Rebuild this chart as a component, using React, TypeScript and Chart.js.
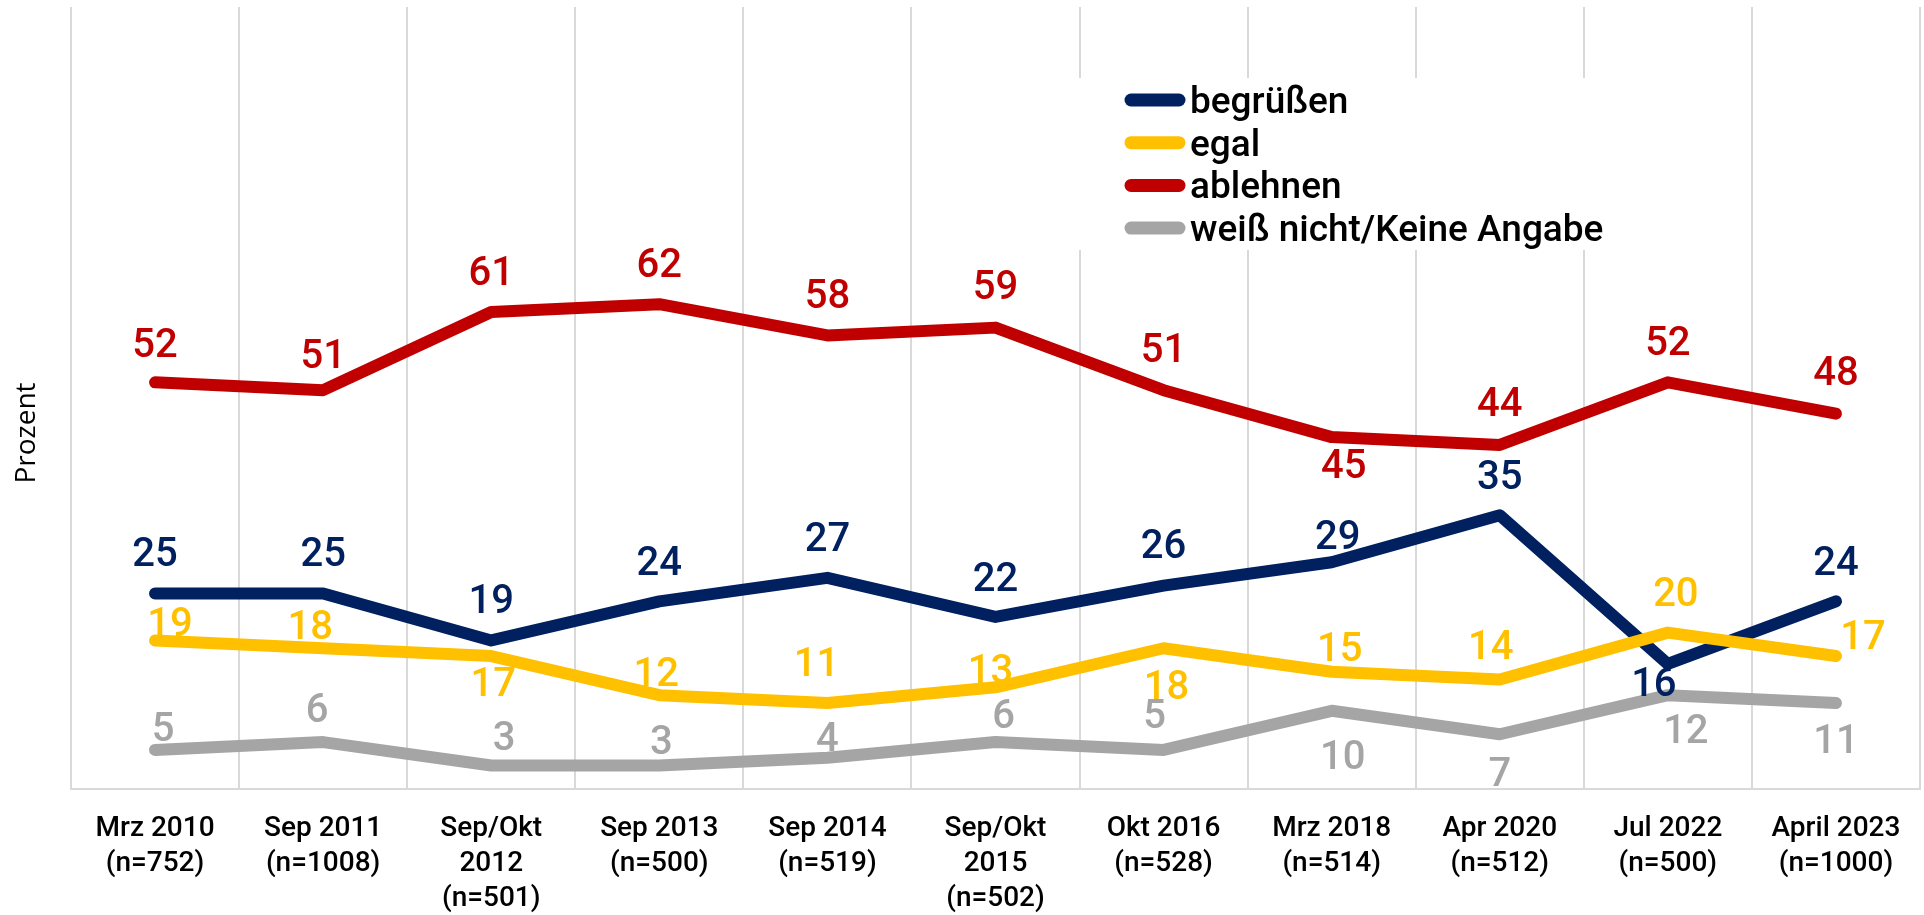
import React, { useEffect, useRef } from "react";
import { Chart, registerables } from "chart.js";

Chart.register(...registerables);

// ---------- data ----------
const categories: string[][] = [
  ["Mrz 2010", "(n=752)"],
  ["Sep 2011", "(n=1008)"],
  ["Sep/Okt", "2012", "(n=501)"],
  ["Sep 2013", "(n=500)"],
  ["Sep 2014", "(n=519)"],
  ["Sep/Okt", "2015", "(n=502)"],
  ["Okt 2016", "(n=528)"],
  ["Mrz 2018", "(n=514)"],
  ["Apr 2020", "(n=512)"],
  ["Jul 2022", "(n=500)"],
  ["April 2023", "(n=1000)"],
];

const seriesNames = ["begrüßen", "egal", "ablehnen", "weiß nicht/Keine Angabe"];

const begruessen = [25, 25, 19, 24, 27, 22, 26, 29, 35, 16, 24];
const egal = [19, 18, 17, 12, 11, 13, 18, 15, 14, 20, 17];
const ablehnen = [52, 51, 61, 62, 58, 59, 51, 45, 44, 52, 48];
const weissNicht = [5, 6, 3, 3, 4, 6, 5, 10, 7, 12, 11];

const axisTitle = "Prozent";

// ---------- styles ----------
const seriesColors = ["#002060", "#FFC000", "#C00000", "#A5A5A5"];

// data label placement (pixel offsets of label centre from its point)
const labelDyBegruessen = [-42, -42, -42, -41, -41, -40, -42, -27, -41, 18, -41];
const labelDxBegruessen = [0, 0, 0, 0, 0, 0, 0, 6, 0, -14, 0];
const labelDyEgal = [-19, -23, 26, -23, -41, -19, 37, -25, -35, -41, -21];
const labelDxEgal = [15, -13, 2, -3, -11, -5, 3, 8, -9, 8, 27];
const labelDyAblehnen = [-40, -36, -41, -41, -42, -43, -42, 27, -43, -42, -43];
const labelDxAblehnen = [0, 0, 0, 0, 0, 0, 0, 12, 0, 0, 0];
const labelDyWeiss = [-23, -34, -30, -26, -21, -28, -36, 44, 38, 34, 36];
const labelDxWeiss = [8, -6, 13, 2, 0, 8, -9, 11, 0, 18, 0];

const FONT = "Roboto, 'DejaVu Sans', sans-serif";

const dataLabelPlugin = {
  id: "dataLabelPlugin",
  afterDatasetsDraw(chart: any, _args: any, opts: any) {
    const ctx = chart.ctx;
    const dys = opts.dy as number[][];
    const dxs = opts.dx as number[][];
    const size = opts.size as number;
    ctx.save();
    ctx.font = `500 ${size}px ${FONT}`;
    ctx.textAlign = "center";
    ctx.textBaseline = "alphabetic";
    chart.data.datasets.forEach((ds: any, di: number) => {
      const meta = chart.getDatasetMeta(di);
      ctx.fillStyle = ds.borderColor;
      meta.data.forEach((pt: any, i: number) => {
        const v = ds.data[i];
        const x = pt.x + (dxs[di][i] || 0);
        const yc = pt.y + (dys[di][i] || 0);
        ctx.fillText(String(v), x, yc + size * 0.355);
      });
    });
    ctx.restore();
  },
};

const legendPlugin = {
  id: "customLegend",
  beforeDatasetsDraw(chart: any, _args: any, opts: any) {
    const ctx = chart.ctx;
    ctx.save();
    ctx.fillStyle = "#ffffff";
    ctx.fillRect(opts.boxX, opts.boxY, opts.boxW, opts.boxH);
    ctx.font = `500 ${opts.fontSize}px ${FONT}`;
    ctx.textAlign = "left";
    ctx.textBaseline = "alphabetic";
    chart.data.datasets.forEach((ds: any, i: number) => {
      const yc = opts.firstY + i * opts.rowGap;
      ctx.strokeStyle = ds.borderColor;
      ctx.lineWidth = opts.lineW;
      ctx.lineCap = "round";
      ctx.beginPath();
      ctx.moveTo(opts.lineX0, yc);
      ctx.lineTo(opts.lineX1, yc);
      ctx.stroke();
      ctx.fillStyle = "#000000";
      ctx.fillText(ds.label, opts.textX, yc + opts.baselineShift);
    });
    ctx.restore();
  },
};

const axisTitlePlugin = {
  id: "axisTitlePlugin",
  afterDraw(chart: any, _args: any, opts: any) {
    const ctx = chart.ctx;
    ctx.save();
    ctx.translate(opts.x, opts.y);
    ctx.rotate(-Math.PI / 2);
    ctx.font = `500 ${opts.size}px 'Open Sans', sans-serif`;
    ctx.fillStyle = "#000000";
    ctx.textAlign = "center";
    ctx.textBaseline = "middle";
    ctx.fillText(opts.text, 0, 0);
    ctx.restore();
  },
};

export default function App() {
  const canvasRef = useRef<HTMLCanvasElement | null>(null);

  useEffect(() => {
    document.body.style.margin = "0";
    document.body.style.overflow = "hidden";
    const canvas = canvasRef.current;
    if (!canvas) return;

    const seriesData = [begruessen, egal, ablehnen, weissNicht];
    const drawOrder = [4, 3, 2, 1];

    const chart = new Chart(canvas, {
      type: "line",
      data: {
        labels: categories,
        datasets: seriesData.map((d, i) => ({
          label: seriesNames[i],
          data: d,
          borderColor: seriesColors[i],
          backgroundColor: seriesColors[i],
          borderWidth: 12,
          borderCapStyle: "round",
          borderJoinStyle: "round",
          pointRadius: 0,
          pointHoverRadius: 0,
          tension: 0,
          fill: false,
          order: drawOrder[i],
        })),
      },
      plugins: [legendPlugin, dataLabelPlugin, axisTitlePlugin],
      options: {
        animation: false,
        responsive: false,
        maintainAspectRatio: false,
        events: [],
        layout: { padding: { left: 71, right: 4, top: 7, bottom: 0 } },
        plugins: {
          legend: { display: false },
          tooltip: { enabled: false },
          title: { display: false },
          dataLabelPlugin: {
            size: 40,
            dy: [labelDyBegruessen, labelDyEgal, labelDyAblehnen, labelDyWeiss],
            dx: [labelDxBegruessen, labelDxEgal, labelDxAblehnen, labelDxWeiss],
          },
          customLegend: {
            boxX: 1062,
            boxY: 78,
            boxW: 560,
            boxH: 172,
            lineX0: 1131,
            lineX1: 1179,
            lineW: 13,
            textX: 1190,
            firstY: 100,
            rowGap: 42.7,
            fontSize: 37,
            baselineShift: 13,
          },
          axisTitlePlugin: { text: axisTitle, x: 27, y: 433, size: 28 },
        } as any,
        scales: {
          x: {
            type: "category",
            offset: true,
            grid: {
              offset: true,
              color: "#D9D9D9",
              lineWidth: 2,
              drawTicks: false,
            },
            border: { display: true, color: "#D9D9D9", width: 2 },
            ticks: {
              color: "#000000",
              padding: 22,
              maxRotation: 0,
              minRotation: 0,
              autoSkip: false,
              font: { family: FONT, size: 28, weight: "500", lineHeight: 1.25 },
            },
            afterFit: (scale: any) => {
              scale.height = 126;
            },
          },
          y: {
            display: false,
            min: 0,
            max: 100,
          },
        },
      } as any,
    });

    return () => {
      chart.destroy();
    };
  }, []);

  return (
    <div style={{ width: 1924, height: 915 }}>
      <canvas
        ref={canvasRef}
        width={1924}
        height={915}
        style={{ display: "block", width: 1924, height: 915 }}
      />
    </div>
  );
}
